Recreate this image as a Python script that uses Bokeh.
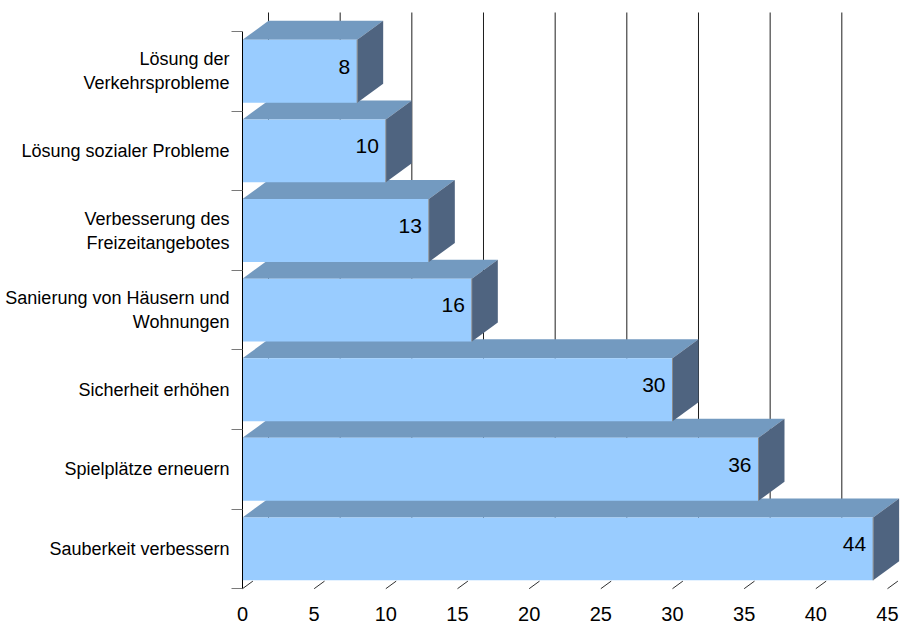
from bokeh.plotting import figure
from bokeh.models import Range1d, FixedTicker, ColumnDataSource
from bokeh.embed import file_html
from bokeh.resources import INLINE

# ---- data (bottom to top) ----
categories = [
    "Sauberkeit verbessern",
    "Spielplätze erneuern",
    "Sicherheit erhöhen",
    "Sanierung von Häusern und\nWohnungen",
    "Verbesserung des\nFreizeitangebotes",
    "Lösung sozialer Probleme",
    "Lösung der\nVerkehrsprobleme",
]
values = [44, 36, 30, 16, 13, 10, 8]
x_ticks = [0, 5, 10, 15, 20, 25, 30, 35, 40, 45]

# ---- layout constants ----
W, H = 901, 625
FRAME_LEFT = 231       # frame left edge (px)
AXIS_X = 242           # px position of value 0
PX_X = 14.333          # pixels per value unit
PX_Y = 79.6            # pixels per category
DX_PX, DY_PX = 26, 19  # 3D depth offset
FRONT_TOP = 31         # px of the front plane top
BAR_H = 0.79

dxu = DX_PX / PX_X
dyu = DY_PX / PX_Y
n = len(categories)
y_top_front = n - 0.5
y_end = y_top_front + FRONT_TOP / PX_Y
y_start = y_end - H / PX_Y
x_start = -(AXIS_X - FRAME_LEFT) / PX_X
x_end = x_start + (W - FRAME_LEFT) / PX_X

FRONT = "#99CCFF"
TOP = "#739AC0"
SIDE = "#4F6480"
GRID = "#1e1e1e"

p = figure(width=W, height=H, output_backend="svg", toolbar_location=None,
           x_range=Range1d(x_start, x_end), y_range=Range1d(y_start, y_end),
           min_border_left=FRAME_LEFT, min_border_right=0, min_border_top=0,
           min_border_bottom=0)
p.outline_line_color = None
p.xgrid.visible = False
p.ygrid.visible = False
p.background_fill_color = "white"
p.border_fill_color = "white"

ys = list(range(n))

# back wall gridlines
p.segment(x0=[t + dxu for t in x_ticks], y0=[-0.5 + dyu] * len(x_ticks),
          x1=[t + dxu for t in x_ticks], y1=[y_top_front + dyu] * len(x_ticks),
          line_color=GRID, line_width=1)

# floor ticks (diagonal)
p.segment(x0=x_ticks, y0=[-0.5] * len(x_ticks),
          x1=[t + 0.4 * dxu for t in x_ticks], y1=[-0.5 + 0.4 * dyu] * len(x_ticks),
          line_color="#303030", line_width=1)

# bars: bottom first, upper ones drawn later (in front)
for i, v in zip(ys, values):
    b, t = i - BAR_H / 2, i + BAR_H / 2
    p.patch([0, dxu, v + dxu, v], [t, t + dyu, t + dyu, t],
            fill_color=TOP, line_color=None)
    p.patch([v, v + dxu, v + dxu, v], [b, b + dyu, t + dyu, t],
            fill_color=SIDE, line_color=None)
    p.quad(left=[0], right=[v], bottom=[b], top=[t],
           fill_color=FRONT, line_color=None)
    p.segment(x0=[v], y0=[b], x1=[v], y1=[t], line_color="#8a8a8a", line_width=1)

# value labels
src = ColumnDataSource(dict(x=values, y=[i + 0.06 for i in ys],
                            t=[str(v) for v in values]))
p.text(x="x", y="y", text="t", source=src, text_align="right",
       text_baseline="middle", x_offset=-7, text_font_size="21px",
       text_font={"value": "Liberation Sans"}, text_color="black")

# left (category) axis line
p.segment(x0=[0], y0=[-0.5], x1=[0], y1=[y_top_front], line_color="black", line_width=1)

ya = p.yaxis[0]
ya.ticker = FixedTicker(ticks=ys, minor_ticks=[i - 0.5 for i in range(n + 1)])
ya.major_label_overrides = {i: c for i, c in zip(ys, categories)}
ya.axis_line_color = None
ya.major_tick_out = 0
ya.major_tick_in = 0
ya.minor_tick_out = 0
ya.minor_tick_in = AXIS_X - FRAME_LEFT
ya.minor_tick_line_color = "#7a7a7a"
ya.major_label_standoff = 2
ya.major_label_text_font = "Liberation Sans"
ya.major_label_text_font_size = "18px"
ya.major_label_text_color = "black"
ya.major_label_text_align = "center"

xa = p.xaxis[0]
xa.fixed_location = -0.5
xa.ticker = FixedTicker(ticks=x_ticks, minor_ticks=[])
xa.axis_line_color = None
xa.major_tick_out = 0
xa.major_tick_in = 0
xa.minor_tick_out = 0
xa.minor_tick_in = 0
xa.major_label_standoff = 18
xa.major_label_text_font = "Liberation Sans"
xa.major_label_text_font_size = "20px"
xa.major_label_text_color = "black"

open("out.html", "w").write(file_html(p, INLINE))
